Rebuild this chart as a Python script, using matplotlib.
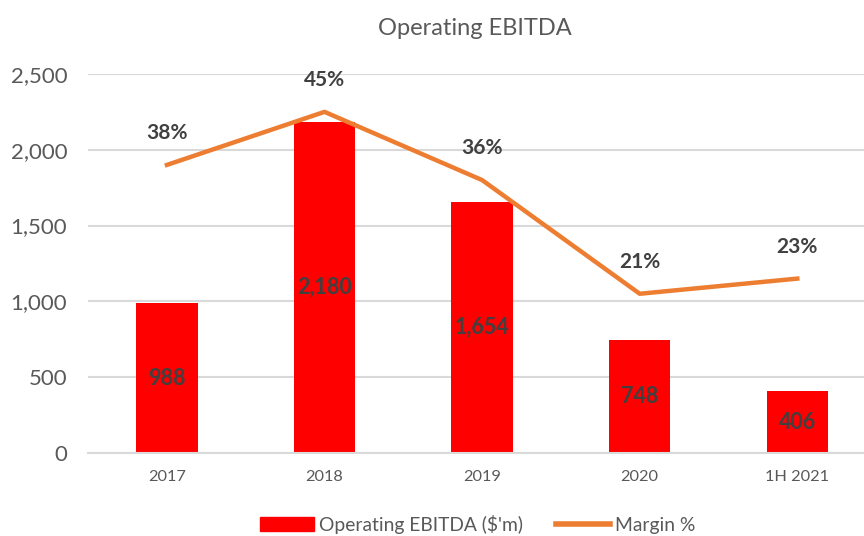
import matplotlib
matplotlib.use("Agg")
from matplotlib import pyplot as plt
from matplotlib.patches import Patch
from matplotlib.lines import Line2D

# data
periods = ["2017", "2018", "2019", "2020", "1H 2021"]
ebitda = [988, 2180, 1654, 748, 406]
margin = [0.38, 0.45, 0.36, 0.21, 0.23]

bar_color = "#FF0000"
line_color = "#ED7D31"
text_color = "#404040"
grid_color = "#D9D9D9"

plt.rcParams["font.family"] = ["Lato", "DejaVu Sans"]

fig = plt.figure(figsize=(8.64, 5.36), dpi=100)
ax = fig.add_axes([0.102, 0.155, 0.912, 0.707])
x = list(range(len(periods)))

# bars with centred value labels
bars = ax.bar(x, ebitda, width=0.39, color=bar_color, zorder=2)
for xi, v in zip(x, ebitda):
    ax.text(xi, v / 2, f"{v:,}", ha="center", va="center",
            fontsize=15.5, fontweight="bold", color=text_color, zorder=5)

ax.set_xlim(-0.5, len(periods) - 0.5)
ax.set_ylim(0, 2500)
ax.set_yticks(range(0, 2501, 500))
ax.set_yticklabels([f"{t:,}" for t in range(0, 2501, 500)])
ax.set_xticks(x)
ax.set_xticklabels(periods)
ax.tick_params(axis="y", length=0, pad=15, labelsize=16, labelcolor="#595959")
ax.tick_params(axis="x", length=0, pad=12, labelsize=11.8, labelcolor="#595959")
ax.grid(axis="y", color=grid_color, linewidth=1.5, zorder=0)
ax.set_axisbelow(True)
for s in ["top", "right", "left"]:
    ax.spines[s].set_visible(False)
ax.spines["bottom"].set_color(grid_color)
ax.spines["bottom"].set_linewidth(1.5)

# margin line on a hidden secondary axis
ax2 = ax.twinx()
ax2.set_ylim(0, 0.5)
ax2.plot(x, margin, color=line_color, linewidth=3.2, zorder=3)
for xi, m in zip(x, margin):
    ax2.annotate(f"{m:.0%}", (xi, m), xytext=(0, 23), textcoords="offset points",
                 ha="center", va="center", fontsize=15, fontweight="bold",
                 color=text_color)
ax2.axis("off")

fig.text(0.55, 0.947, "Operating EBITDA", ha="center", va="center",
         fontsize=17, color="#595959")

handles = [Patch(color=bar_color), Line2D([0], [0], color=line_color, linewidth=4)]
fig.legend(handles, ["Operating EBITDA ($'m)", "Margin %"], loc="center",
           bbox_to_anchor=(0.553, 0.022), ncol=2, frameon=False, fontsize=13.9,
           labelcolor="#595959", handlelength=2.8, handletextpad=0.25,
           columnspacing=1.7)

fig.savefig("out.png", dpi=100)
